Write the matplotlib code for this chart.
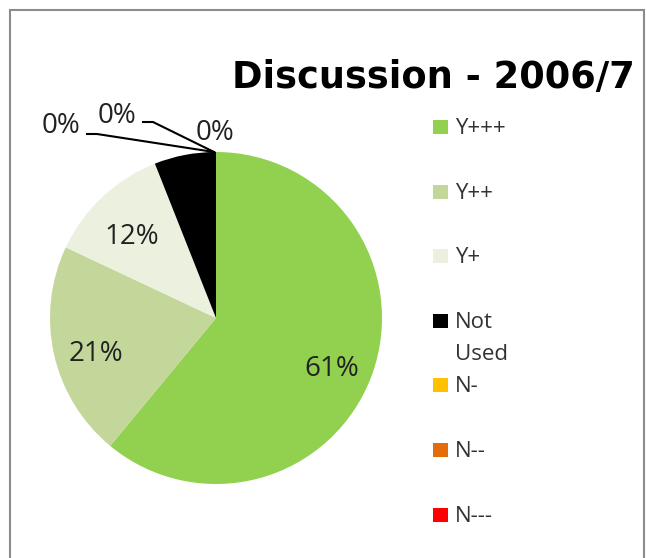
import matplotlib.pyplot as plt
from matplotlib.patches import Rectangle

# slice data, in legend order
labels = ['Y+++', 'Y++', 'Y+', 'Not\nUsed', 'N-', 'N--', 'N---']
values = [61, 21, 12, 6, 0, 0, 0]
colors = ['#92D050', '#C4D79B', '#EBF1DE', '#000000', '#FFC000', '#E46C0A', '#FF0000']
title = 'Discussion - 2006/7'

# where the zero labels sit (figure pixels, from top left) and where their leader lines bend
zero_text = [(61, 126), (117, 116), (215, 133)]
zero_bend = [(87, 134), (143, 122), None]

W, H = 647, 558
plt.rcParams['font.family'] = ['Open Sans', 'DejaVu Sans']

fig = plt.figure(figsize=(W / 100, H / 100), dpi=100)

def px(x, y):
    return x / W, 1 - y / H

# grey frame like the spreadsheet chart area
fig.patches.append(Rectangle((10 / W, -0.1), (W - 13) / W, 1.1 - 10 / H,
                             transform=fig.transFigure, fill=False,
                             edgecolor='#8c8c8c', linewidth=1.5))

cx, cy, r = 216, 318, 166
ax = fig.add_axes([(cx - r) / W, 1 - (cy + r) / H, 2 * r / W, 2 * r / H])

def pct(p):
    return '%d%%' % round(p) if p > 0.5 else ''

wedges, texts, autotexts = ax.pie(values, colors=colors, startangle=90, counterclock=False,
                                  autopct=pct, pctdistance=0.74,
                                  wedgeprops=dict(linewidth=0),
                                  textprops=dict(fontsize=20, color='#222222'))
for t in autotexts:
    x, y = t.get_position()
    t.set_position((x, y - 9 / r))
# label on the black slice is black too, so it does not show
autotexts[3].set_color('black')
ax.set_xlim(-1, 1)
ax.set_ylim(-1, 1)
ax.axis('off')

# the zero slices get outside labels with leader lines to the top of the pie
top = px(cx - 2, cy - r)
for (tx, ty), bend in zip(zero_text, zero_bend):
    fig.text(*px(tx, ty), '0%', fontsize=20, color='#222222', ha='center', va='center')
    if bend is not None:
        bx, by = bend
        fig.lines.append(plt.Line2D([bx / W, (bx + 10) / W, top[0]],
                                    [1 - by / H, 1 - by / H, top[1]],
                                    transform=fig.transFigure, color='black', linewidth=1.5))

fig.text(*px(635, 88), title, fontsize=26.5, fontweight='bold', family='DejaVu Sans',
         ha='right', va='baseline')

# legend drawn by hand, one entry per slice
for i, (lab, col) in enumerate(zip(labels, colors)):
    base = 134 + i * 64.6
    fig.patches.append(Rectangle(px(433, base), 15 / W, 14 / H,
                                 transform=fig.transFigure, facecolor=col, edgecolor='none'))
    for j, line in enumerate(lab.split('\n')):
        fig.text(*px(455, base + j * 32), line, fontsize=16, color='#333333',
                 ha='left', va='baseline')

fig.savefig('out.png', dpi=100)
